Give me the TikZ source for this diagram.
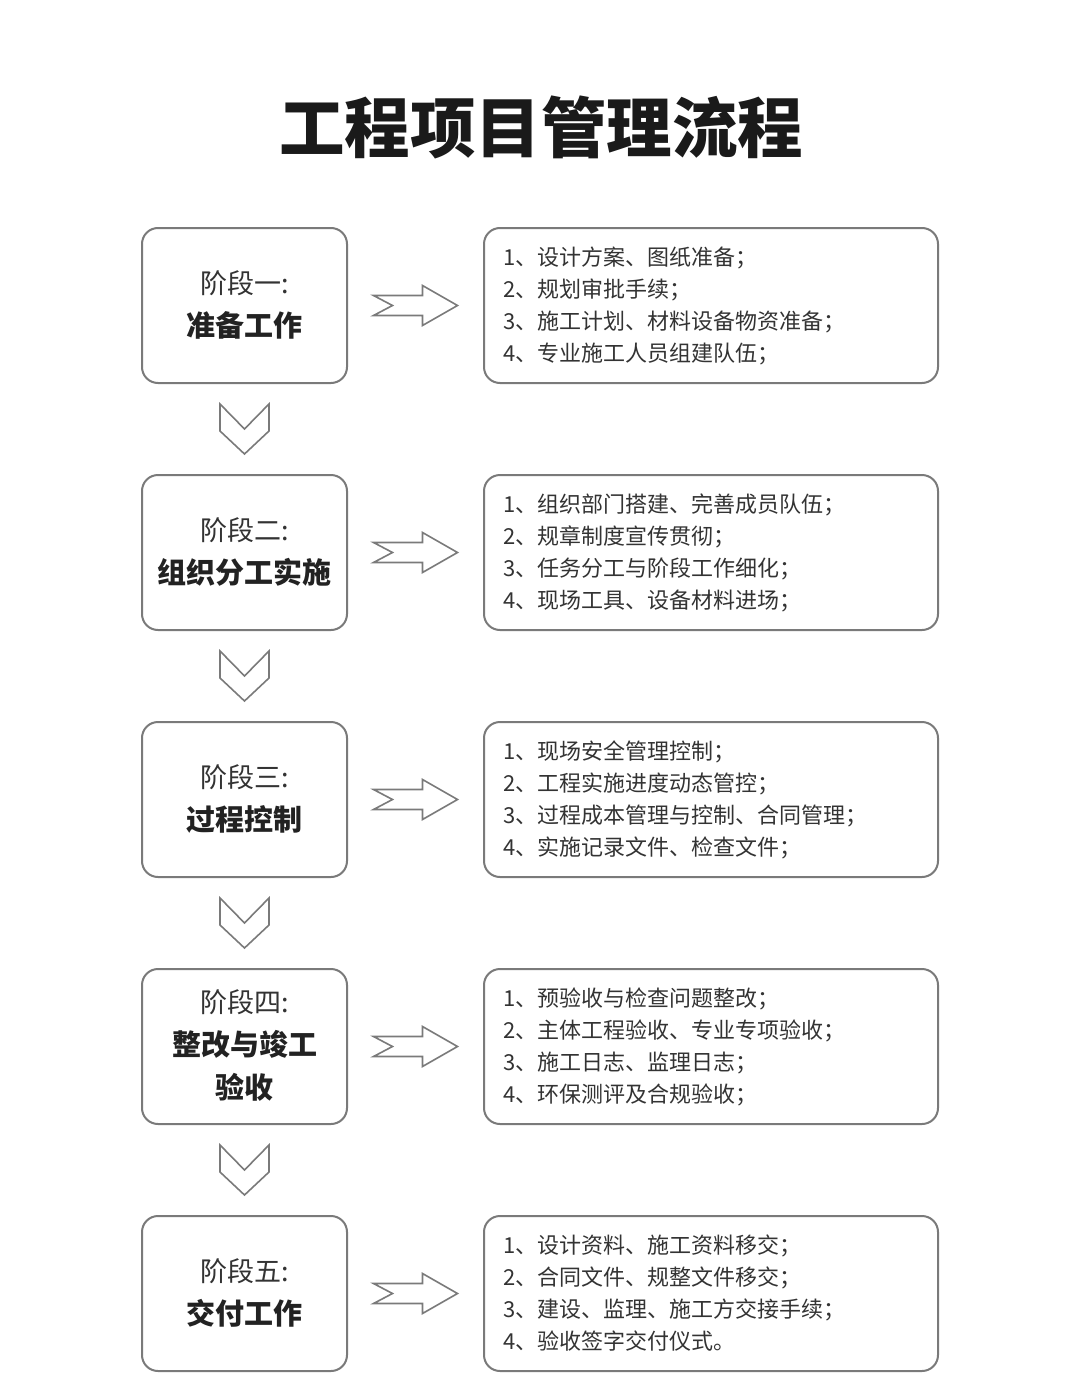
\documentclass[tikz,border=0pt]{standalone}
\usepackage{fontspec}
\usetikzlibrary{calc}
\newfontfamily\cjk{Noto Sans CJK SC}
\definecolor{boxline}{HTML}{7A7A7A}
\definecolor{txt}{HTML}{333333}
\definecolor{txtb}{HTML}{222222}
\definecolor{ttl}{HTML}{1A1A1A}
\tikzset{
  lbox/.style={draw=boxline, line width=2pt, rounded corners=16pt, minimum width=205pt, minimum height=155pt, align=center, text=txt, font=\cjk\fontsize{28}{43}\selectfont, inner sep=0pt},
  rbox/.style={draw=boxline, line width=2pt, rounded corners=16pt, minimum width=454pt, minimum height=155pt, text width=416pt, align=left, text=txt, font=\cjk\fontsize{22}{32}\selectfont, inner xsep=19pt, inner ysep=0pt},
  arrowline/.style={draw=boxline, line width=1.6pt, fill=white, line join=miter},
  rarrow/.pic={\path[arrowline] (-42,-10) -- (-23,0) -- (-42,10) -- (7,10) -- (7,20) -- (42,0) -- (7,-20) -- (7,-10) -- cycle;},
  dchev/.pic={\path[arrowline] (-24.5,-25) -- (0,0) -- (24.5,-25) -- (24.5,2) -- (0,25) -- (-24.5,2) -- cycle;},
}
\newcommand{\sthead}[1]{{\fontsize{27}{43}\selectfont #1}}
\newcommand{\stname}[1]{{\bfseries\color{txtb}\fontsize{29}{43}\selectfont #1}}
\begin{document}
\begin{tikzpicture}[x=1pt, y=-1pt]
\fill[white] (0,0) rectangle (1080,1386);
\useasboundingbox (0,0) rectangle (1080,1386);
\node[font=\cjk\bfseries\fontsize{65.5}{70}\selectfont, text=ttl] (title) at (541,127) {工程项目管理流程};

\node[lbox, text depth=4pt] (L1) at (244.5,305.5) {\sthead{阶段一:}\\\stname{准备工作}};
\node[lbox, text depth=4pt] (L2) at (244.5,552.5) {\sthead{阶段二:}\\\stname{组织分工实施}};
\node[lbox, text depth=4pt] (L3) at (244.5,799.5) {\sthead{阶段三:}\\\stname{过程控制}};
\node[lbox, text depth=4pt] (L4) at (244.5,1046.5) {\sthead{阶段四:}\\\stname{整改与竣工}\\\stname{验收}};
\node[lbox, text depth=4pt] (L5) at (244.5,1293.5) {\sthead{阶段五:}\\\stname{交付工作}};

\node[rbox] (R1) at (711,305.5) {1、设计方案、图纸准备；\\2、规划审批手续；\\3、施工计划、材料设备物资准备；\\4、专业施工人员组建队伍；};
\node[rbox] (R2) at (711,552.5) {1、组织部门搭建、完善成员队伍；\\2、规章制度宣传贯彻；\\3、任务分工与阶段工作细化；\\4、现场工具、设备材料进场；};
\node[rbox] (R3) at (711,799.5) {1、现场安全管理控制；\\2、工程实施进度动态管控；\\3、过程成本管理与控制、合同管理；\\4、实施记录文件、检查文件；};
\node[rbox] (R4) at (711,1046.5) {1、预验收与检查问题整改；\\2、主体工程验收、专业专项验收；\\3、施工日志、监理日志；\\4、环保测评及合规验收；};
\node[rbox] (R5) at (711,1293.5) {1、设计资料、施工资料移交；\\2、合同文件、规整文件移交；\\3、建设、监理、施工方交接手续；\\4、验收签字交付仪式。};

\foreach \i in {1,...,5}{
  \pic at ($(L\i.east)!0.5!(R\i.west)$) {rarrow};
}
\foreach \i/\j in {1/2,2/3,3/4,4/5}{
  \pic at ($(L\i.south)!0.5!(L\j.north)$) {dchev};
}
\end{tikzpicture}
\end{document}
